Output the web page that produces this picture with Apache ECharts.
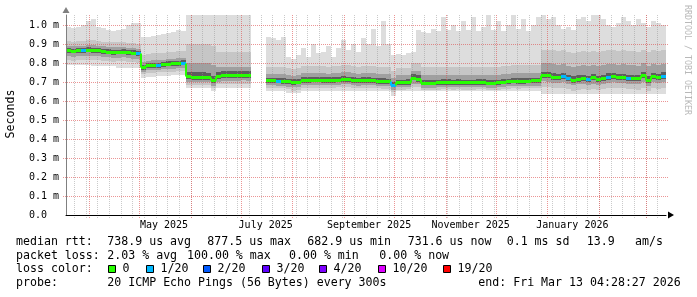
<!DOCTYPE html>
<html><head><meta charset="utf-8">
<script src="https://cdn.jsdelivr.net/npm/echarts@6/dist/echarts.min.js"></script>
<style>html,body{margin:0;padding:0;background:#fff}#c{width:697px;height:297px}</style>
</head><body><div id="c"></div>
<script>
// ---- time frame (360 days, 3-day buckets) ----
const START = Date.UTC(2025, 2, 18, 4, 28, 27);
const END = Date.UTC(2026, 2, 13, 4, 28, 27);
const BUCKET = 3 * 86400000;

// ---- median RTT (ms) per bucket ----
const median = [
 .866,.864,.866,.868,.870,.869,.866,.862,.860,.858,
 .859,.860,.856,.854,.850,.778,.787,.789,.790,.793,
 .796,.798,.800,.802,.730,.727,.726,.727,.725,.708,
 .730,.736,.737,.737,.737,.738,.737,null,null,null,
 .708,.708,.707,.706,.703,.700,.702,.711,.711,.712,
 .712,.711,.710,.711,.713,.715,.714,.711,.708,.710,
 .710,.709,.706,.705,.703,.686,.698,.699,.700,.722,
 .716,.697,.696,.697,.699,.700,.700,.699,.700,.699,
 .698,.699,.700,.700,.697,.696,.699,.702,.704,.707,
 .705,.706,.707,.708,.708,.738,.735,.728,.727,.730,
 .722,.713,.718,.722,.716,.724,.716,.722,.728,.730,
 .726,.727,.722,.722,.720,.735,.712,.730,.726,.733];

// ---- lost pings (of 20) per bucket ----
const loss = [
 0,0,0,1,0,0,0,0,0,0, 0,0,0,0,1,0,0,0,1,0, 0,0,0,1,0,0,0,0,0,0,
 0,0,0,0,0,0,0,null,null,null, 0,0,1,0,0,0,0,0,0,0, 0,0,0,0,0,0,0,0,0,0,
 0,0,0,0,0,1,0,0,0,0, 0,0,0,0,0,0,0,0,0,0, 0,0,0,0,0,0,0,0,0,0,
 0,0,0,0,0,0,0,0,0,1, 1,0,0,0,1,0,0,0,1,0, 0,0,1,0,0,0,0,0,0,1];

// ---- smoke envelopes (ms): outer (1) to inner (4) ----
const hi1 = [
 .99,.985,.99,1.0,1.02,1.03,.99,.985,.975,.97,
 .975,.98,1.0,1.01,1.01,.935,.935,.94,.945,.955,
 .96,.965,.975,.97,1.06,1.06,1.06,1.06,1.06,1.06,
 1.06,1.06,1.06,1.06,1.06,1.06,1.06,null,null,null,
 .935,.93,.92,.935,.83,.82,.84,.88,.83,.90,
 .85,.86,.89,.83,.88,.92,.87,.90,.86,.93,
 .90,.98,.89,1.02,.90,.84,.845,.84,.85,.86,
 .975,.965,.96,.98,.97,1.04,.975,1.0,.97,1.02,
 .975,1.04,.97,.99,1.05,.975,1.02,.97,1.0,1.05,
 .98,1.03,.97,1.0,1.04,1.05,1.03,1.04,1.0,.98,
 .99,.975,1.03,1.04,1.02,1.05,1.05,1.03,1.0,.99,
 1.01,1.04,1.02,1.0,1.03,1.01,.99,1.02,1.01,1.0];
const hi2 = [
 .915,.912,.915,.918,.92,.92,.915,.912,.91,.908,
 .908,.91,.905,.905,.90,.84,.845,.85,.85,.855,
 .86,.86,.865,.865,.90,.90,.90,.90,.90,.89,
 .86,.86,.86,.86,.86,.86,.86,null,null,null,
 .78,.78,.78,.78,.775,.77,.775,.785,.785,.785,
 .785,.785,.78,.785,.785,.79,.79,.785,.78,.785,
 .785,.785,.78,.78,.78,.76,.775,.775,.775,.80,
 .80,.78,.78,.78,.78,.78,.78,.78,.78,.78,
 .78,.78,.78,.78,.78,.78,.78,.785,.785,.79,
 .79,.79,.79,.79,.79,.87,.87,.87,.865,.87,
 .86,.855,.86,.865,.86,.865,.86,.865,.87,.87,
 .865,.87,.865,.865,.86,.87,.86,.87,.865,.87];
const hi3 = [
 .89,.888,.89,.892,.895,.894,.89,.887,.885,.883,
 .884,.885,.88,.878,.875,.805,.812,.815,.815,.818,
 .82,.822,.825,.827,.80,.80,.80,.80,.80,.79,
 .78,.78,.78,.78,.78,.78,.78,null,null,null,
 .74,.74,.74,.74,.735,.73,.735,.745,.745,.745,
 .745,.745,.74,.745,.745,.75,.75,.745,.74,.745,
 .745,.745,.74,.74,.74,.72,.735,.735,.735,.76,
 .76,.735,.735,.735,.735,.735,.735,.735,.735,.735,
 .735,.735,.735,.735,.735,.735,.735,.74,.74,.745,
 .745,.745,.745,.745,.745,.80,.80,.795,.79,.795,
 .785,.78,.785,.79,.785,.79,.785,.79,.795,.795,
 .79,.795,.79,.79,.785,.80,.785,.795,.79,.795];
const hi4 = [
 .878,.876,.878,.88,.882,.881,.878,.874,.872,.870,
 .871,.872,.868,.866,.862,.79,.799,.801,.802,.805,
 .808,.81,.812,.814,.752,.75,.75,.75,.748,.73,
 .752,.756,.756,.756,.756,.757,.756,null,null,null,
 .722,.722,.721,.72,.717,.714,.716,.725,.725,.726,
 .726,.725,.724,.725,.727,.729,.728,.725,.722,.724,
 .724,.723,.72,.719,.717,.70,.712,.713,.714,.74,
 .735,.711,.71,.711,.713,.714,.714,.713,.714,.713,
 .712,.713,.714,.714,.711,.71,.713,.716,.718,.721,
 .719,.72,.721,.722,.722,.755,.752,.745,.744,.747,
 .739,.73,.735,.739,.733,.741,.733,.739,.745,.747,
 .743,.744,.739,.739,.737,.752,.729,.747,.743,.75];
const lo4 = [
 .852,.85,.852,.854,.856,.855,.852,.848,.846,.844,
 .845,.846,.842,.84,.836,.765,.773,.775,.776,.779,
 .782,.784,.786,.788,.715,.713,.712,.713,.711,.694,
 .716,.721,.722,.722,.722,.723,.722,null,null,null,
 .694,.694,.693,.692,.689,.686,.688,.697,.697,.698,
 .698,.697,.696,.697,.699,.701,.70,.697,.694,.696,
 .696,.695,.692,.691,.689,.672,.684,.685,.686,.708,
 .702,.683,.682,.683,.685,.686,.686,.685,.686,.685,
 .684,.685,.686,.686,.683,.682,.685,.688,.69,.693,
 .691,.692,.693,.694,.694,.722,.719,.712,.711,.714,
 .706,.697,.702,.706,.70,.708,.70,.706,.712,.714,
 .71,.711,.706,.706,.704,.719,.696,.714,.71,.717];
const lo3 = [
 .835,.833,.835,.837,.839,.838,.835,.831,.829,.827,
 .828,.829,.825,.823,.819,.755,.762,.763,.764,.766,
 .768,.77,.772,.773,.70,.70,.70,.70,.698,.68,
 .702,.706,.707,.707,.707,.708,.707,null,null,null,
 .682,.682,.681,.68,.676,.673,.676,.684,.684,.685,
 .685,.684,.683,.684,.686,.688,.687,.684,.681,.683,
 .683,.682,.68,.679,.677,.66,.672,.673,.674,.692,
 .688,.671,.67,.671,.673,.674,.674,.673,.674,.673,
 .672,.673,.674,.674,.671,.67,.673,.676,.678,.68,
 .679,.68,.68,.681,.681,.705,.702,.696,.695,.698,
 .69,.682,.687,.69,.685,.692,.685,.69,.696,.698,
 .694,.695,.69,.69,.688,.702,.68,.698,.694,.70];
const lo2 = [
 .815,.813,.815,.816,.818,.817,.815,.811,.809,.807,
 .808,.808,.805,.803,.80,.742,.748,.749,.75,.752,
 .754,.755,.757,.758,.685,.685,.685,.685,.683,.67,
 .688,.69,.69,.69,.69,.692,.69,null,null,null,
 .668,.668,.667,.666,.662,.655,.66,.67,.67,.671,
 .671,.67,.669,.67,.672,.673,.672,.67,.667,.669,
 .669,.668,.666,.665,.663,.645,.66,.66,.661,.675,
 .672,.659,.658,.659,.66,.661,.661,.66,.661,.66,
 .659,.66,.661,.661,.658,.657,.66,.662,.664,.666,
 .665,.666,.666,.667,.667,.675,.672,.667,.666,.668,
 .662,.655,.66,.663,.658,.664,.658,.663,.668,.669,
 .666,.667,.662,.662,.66,.67,.655,.668,.665,.67];
const lo1 = [
 .79,.79,.79,.79,.79,.785,.785,.785,.785,.785,
 .775,.775,.775,.775,.775,.72,.725,.725,.73,.73,
 .73,.735,.735,.735,.668,.668,.668,.668,.668,.655,
 .668,.668,.668,.668,.668,.668,.668,null,null,null,
 .655,.655,.655,.655,.64,.64,.64,.655,.655,.655,
 .655,.655,.655,.655,.655,.655,.655,.655,.655,.655,
 .652,.652,.652,.652,.652,.625,.65,.65,.65,.65,
 .65,.65,.65,.65,.65,.65,.65,.65,.65,.65,
 .65,.65,.65,.65,.65,.65,.65,.65,.65,.65,
 .65,.65,.65,.65,.65,.635,.635,.635,.635,.635,
 .635,.635,.635,.635,.635,.635,.635,.635,.635,.635,
 .635,.635,.635,.635,.635,.635,.635,.635,.635,.635];

// ---- axis labels ----
const xLabels = ['May 2025', 'July 2025', 'September 2025', 'November 2025', 'January 2026'];
const xLabelDates = ['2025-05-16', '2025-07-16', '2025-09-16', '2025-11-16', '2026-01-16'];
const yTicks = [0, 0.1, 0.2, 0.3, 0.4, 0.5, 0.6, 0.7, 0.8, 0.9, 1.0];
const yAxisTitle = 'Seconds';
const watermark = 'RRDTOOL / TOBI OETIKER';

// ---- legend text ----
const statsRtt = ['median rtt:', '738.9 us avg', '877.5 us max', '682.9 us min', '731.6 us now', '0.1 ms sd', '13.9', 'am/s'];
const statsLoss = ['packet loss:', '2.03 % avg', '100.00 % max', '0.00 % min', '0.00 % now'];
const lossTitle = 'loss color:';
const lossLevels = [0, 1, 2, 3, 4, 10, 19];
const lossLabels = ['0', '1/20', '2/20', '3/20', '4/20', '10/20', '19/20'];
const lossColors = ['#26ff00', '#00b8ff', '#0059ff', '#5e00ff', '#7e00ff', '#dd00ff', '#ff0000'];
const probeText = ['probe:', '20 ICMP Echo Pings (56 Bytes) every 300s', 'end: Fri Mar 13 04:28:27 2026'];

// ---- layout (pixels) ----
const rttX = [16, 107.3, 207.3, 307.3, 407.7, 506.7, 586.7, 635];
const lossX = [16, 107.3, 187, 289, 379.3];
const boxX = [108, 146, 203, 262, 319, 378, 443];
const probeX = [16, 107.3, 478.3];
const lineY = [242, 255.5, 269.3, 283];

const MONO = '"DejaVu Sans Mono", "Liberation Mono", monospace';
const SMOKE = ['#dddddd', '#c6c6c6', '#a0a0a0', '#5e5e5e'];

function parseDay(s) { const p = s.split('-').map(Number); return Date.UTC(p[0], p[1] - 1, p[2]); }
const labelTimes = xLabelDates.map(parseDay);

// grid positions from the calendar
const weekTimes = [];
{ const d = new Date(START); let t = Date.UTC(d.getUTCFullYear(), d.getUTCMonth(), d.getUTCDate());
  while (new Date(t).getUTCDay() !== 0 || t < START) t += 86400000;
  for (; t < END; t += 7 * 86400000) weekTimes.push(t); }
const monthTimes = [];
for (let k = 1; k < 14; k++) { const t = Date.UTC(2025, 2 + k, 1); if (t > START && t < END) monthTimes.push(t); }

function lossColor(n) {
  let c = lossColors[0];
  for (let j = 0; j < lossLevels.length; j++) if (n >= lossLevels[j]) c = lossColors[j];
  return c;
}

function bandSeries(lo, hi, color, z) {
  const data = [];
  for (let i = 0; i < lo.length; i++) {
    if (lo[i] == null || hi[i] == null) continue;
    data.push([START + i * BUCKET, START + (i + 1) * BUCKET, lo[i], hi[i]]);
  }
  return {
    type: 'custom', z, silent: true, animation: false, data,
    encode: { x: [0, 1], y: [2, 3] },
    renderItem(params, api) {
      const cs = params.coordSys;
      const a = api.coord([api.value(0), api.value(3)]);
      const b = api.coord([api.value(1), api.value(2)]);
      const x0 = Math.round(a[0]), x1 = Math.round(b[0]);
      const y0 = Math.round(Math.max(a[1], cs.y)), y1 = Math.round(b[1]);
      return { type: 'rect', shape: { x: x0, y: y0, width: x1 - x0, height: y1 - y0 }, style: { fill: color } };
    }
  };
}

function vGrid(times, color, z) {
  return {
    type: 'custom', z, silent: true, animation: false,
    data: times.map(t => [t, 0]), encode: { x: 0, y: 1 },
    renderItem(params, api) {
      const p = api.coord([api.value(0), 0]);
      const x = Math.round(p[0]) + 0.5;
      return { type: 'line', shape: { x1: x, y1: params.coordSys.y, x2: x, y2: p[1] + 3 },
        style: { stroke: color, lineWidth: 1, lineDash: [1, 1] } };
    }
  };
}

function hGrid(values, color, z) {
  return {
    type: 'custom', z, silent: true, animation: false,
    data: values.filter(v => v > 0).map(v => [START, v]), encode: { x: 0, y: 1 },
    renderItem(params, api) {
      const p = api.coord([api.value(0), api.value(1)]);
      const y = Math.round(p[1]) + 0.5;
      const cs = params.coordSys;
      return { type: 'line', shape: { x1: cs.x - 3, y1: y, x2: cs.x + cs.width + 2, y2: y },
        style: { stroke: color, lineWidth: 1, lineDash: [1, 1] } };
    }
  };
}

const medData = [];
for (let i = 0; i < median.length; i++) if (median[i] != null) medData.push([START + i * BUCKET, median[i], loss[i], i]);
const medianSeries = {
  type: 'custom', z: 20, silent: true, animation: false, data: medData,
  encode: { x: 0, y: 1 },
  renderItem(params, api) {
    const t0 = api.value(0), m = api.value(1), i = api.value(3);
    const col = lossColor(api.value(2));
    const p0 = api.coord([t0, m]), p1 = api.coord([t0 + BUCKET, m]);
    const x0 = Math.round(p0[0]), x1 = Math.round(p1[0]);
    const y = Math.round(p0[1]) + 0.5;
    const children = [{ type: 'line', shape: { x1: x0, y1: y, x2: x1, y2: y }, style: { stroke: col, lineWidth: 3 } }];
    if (i > 0 && median[i - 1] != null) {
      const pp = api.coord([t0, median[i - 1]]);
      const yp = Math.round(pp[1]) + 0.5;
      if (Math.abs(yp - y) > 1) children.push({ type: 'line', shape: { x1: x0, y1: yp, x2: x0, y2: y }, style: { stroke: col, lineWidth: 2 } });
    }
    return { type: 'group', children };
  }
};

const graphics = [];
function txt(x, y, s, extra) {
  graphics.push(Object.assign({ type: 'text', x, y, silent: true,
    style: Object.assign({ text: s, font: '11.6px ' + MONO, fill: '#000', textAlign: 'left', textVerticalAlign: 'middle' }, extra || {}) }));
}
statsRtt.forEach((s, k) => txt(rttX[k], lineY[0], s));
statsLoss.forEach((s, k) => txt(lossX[k], lineY[1], s));
txt(16, lineY[2], lossTitle);
lossLabels.forEach((s, k) => {
  graphics.push({ type: 'rect', silent: true, shape: { x: boxX[k] + 0.5, y: 265.5, width: 7, height: 7 },
    style: { fill: lossColors[k], stroke: '#000', lineWidth: 1 } });
  txt(boxX[k] + 14.5, lineY[2], s);
});
probeText.forEach((s, k) => txt(probeX[k], lineY[3], s));
graphics.push({ type: 'text', x: 11, y: 114, rotation: Math.PI / 2, silent: true,
  style: { text: yAxisTitle, font: '11.6px ' + MONO, fill: '#000', textAlign: 'center', textVerticalAlign: 'middle' } });
graphics.push({ type: 'text', x: 687.5, y: 60, rotation: -Math.PI / 2, silent: true,
  style: { text: watermark, font: '8.3px ' + MONO, fill: '#b8b8b8', textAlign: 'center', textVerticalAlign: 'middle' } });

const chart = echarts.init(document.getElementById('c'), null, { renderer: 'canvas' });
chart.setOption({
  animation: false,
  backgroundColor: '#ffffff',
  grid: { left: 66, right: 31, top: 15, bottom: 82, containLabel: false },
  xAxis: {
    type: 'value', min: START, max: END, z: 30,
    axisLine: { show: true, lineStyle: { color: '#000', width: 1 }, symbol: ['none', 'triangle'], symbolSize: [7, 6], symbolOffset: [0, 5] },
    axisTick: { show: false },
    splitLine: { show: false },
    axisLabel: {
      customValues: labelTimes, margin: 5, color: '#000', fontFamily: MONO, fontSize: 10,
      formatter: v => { const k = labelTimes.indexOf(v); return k >= 0 ? xLabels[k] : ''; }
    }
  },
  yAxis: {
    type: 'value', min: 0, max: 1.0526, z: 25,
    axisLine: { show: true, lineStyle: { color: '#808080', width: 1 }, symbol: ['none', 'triangle'], symbolSize: [7, 6], symbolOffset: [0, 5] },
    axisTick: { show: false },
    splitLine: { show: false },
    axisLabel: {
      customValues: yTicks, align: 'left', margin: 37, color: '#000', fontFamily: MONO, fontSize: 10,
      formatter: v => (Math.abs(v) < 1e-9 ? '0.0' : v.toFixed(1) + ' m')
    }
  },
  graphic: graphics,
  series: [
    bandSeries(lo1, hi1, SMOKE[0], 2),
    bandSeries(lo2, hi2, SMOKE[1], 3),
    bandSeries(lo3, hi3, SMOKE[2], 4),
    bandSeries(lo4, hi4, SMOKE[3], 5),
    vGrid(weekTimes, 'rgba(150,150,150,0.5)', 10),
    vGrid(monthTimes, 'rgba(222,79,79,0.6)', 11),
    hGrid(yTicks, 'rgba(222,79,79,0.6)', 11),
    medianSeries
  ]
});
</script></body></html>
